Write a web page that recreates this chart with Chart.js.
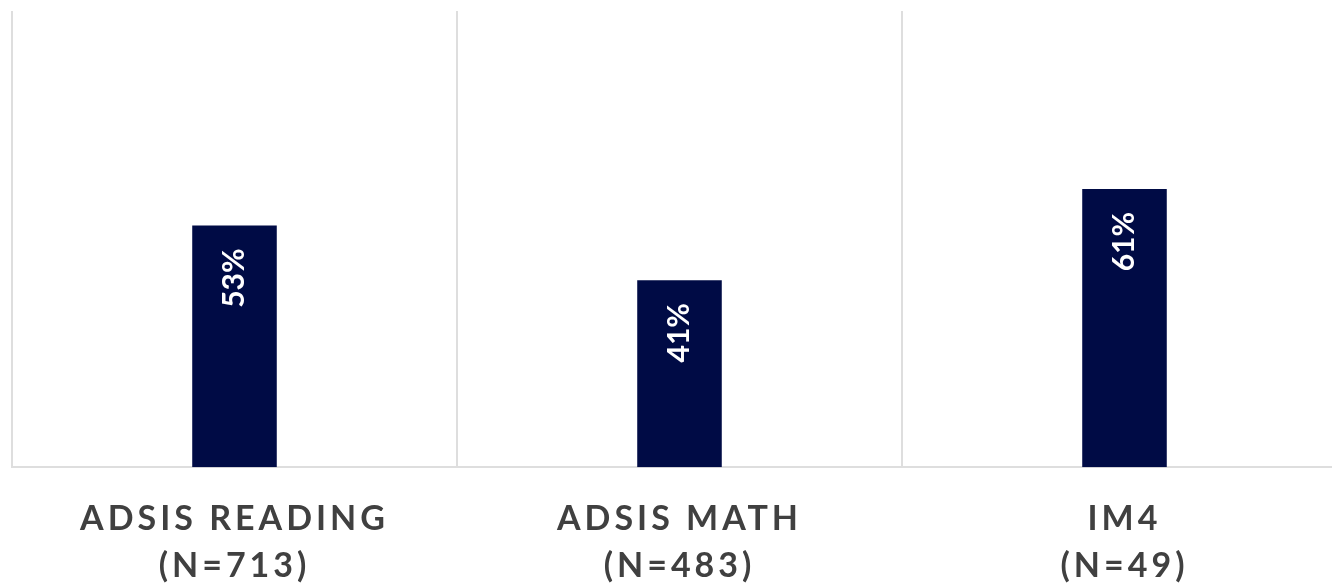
<!DOCTYPE html>
<html>
<head>
<meta charset="utf-8">
<script src="https://cdn.jsdelivr.net/npm/chart.js@4"></script>
<style>
  html, body { margin: 0; padding: 0; background: #fff; overflow: hidden; }
  #wrap { position: relative; width: 1348px; height: 629px; }
</style>
</head>
<body>
<div id="wrap"><canvas id="programChart"></canvas></div>
<script>
const categories = [['ADSIS READING', '(N=713)'], ['ADSIS MATH', '(N=483)'], ['IM4', '(N=49)']];
const percentMet = [53, 41, 61];
const barColor = '#000b45';

// rotated white value labels near the top of each bar
const barLabels = {
  id: 'barLabels',
  afterDatasetsDraw(chart) {
    const ctx = chart.ctx;
    chart.getDatasetMeta(0).data.forEach((bar, i) => {
      ctx.save();
      ctx.letterSpacing = '0px';
      ctx.translate(bar.x, bar.y);
      ctx.rotate(-Math.PI / 2);
      ctx.fillStyle = '#ffffff';
      ctx.font = 'bold 30px Lato';
      ctx.textAlign = 'right';
      ctx.textBaseline = 'middle';
      ctx.fillText(percentMet[i] + '%', -23, 0);
      ctx.restore();
    });
  }
};

// spaced-out category text like the original
const spacedTicks = {
  id: 'spacedTicks',
  beforeDraw(chart) { chart.ctx.letterSpacing = '4px'; },
  afterDraw(chart) { chart.ctx.letterSpacing = '0px'; }
};

new Chart(document.getElementById('programChart'), {
  type: 'bar',
  data: {
    labels: categories,
    datasets: [{
      data: percentMet,
      backgroundColor: barColor,
      barPercentage: 0.38,
      categoryPercentage: 0.5
    }]
  },
  options: {
    responsive: true,
    maintainAspectRatio: false,
    animation: false,
    layout: { padding: { left: 12, top: 11, right: 1, bottom: 12 } },
    plugins: { legend: { display: false }, tooltip: { enabled: false } },
    scales: {
      x: {
        grid: { offset: true, color: '#dedede', lineWidth: 2, drawTicks: false },
        border: { color: '#dedede', width: 2 },
        ticks: {
          color: '#404040',
          padding: 28,
          maxRotation: 0,
          font: { family: 'Lato', size: 34, weight: 'bold', lineHeight: 1.38 }
        }
      },
      y: { display: false, min: 0, max: 100 }
    }
  },
  plugins: [barLabels, spacedTicks]
});
</script>
</body>
</html>
